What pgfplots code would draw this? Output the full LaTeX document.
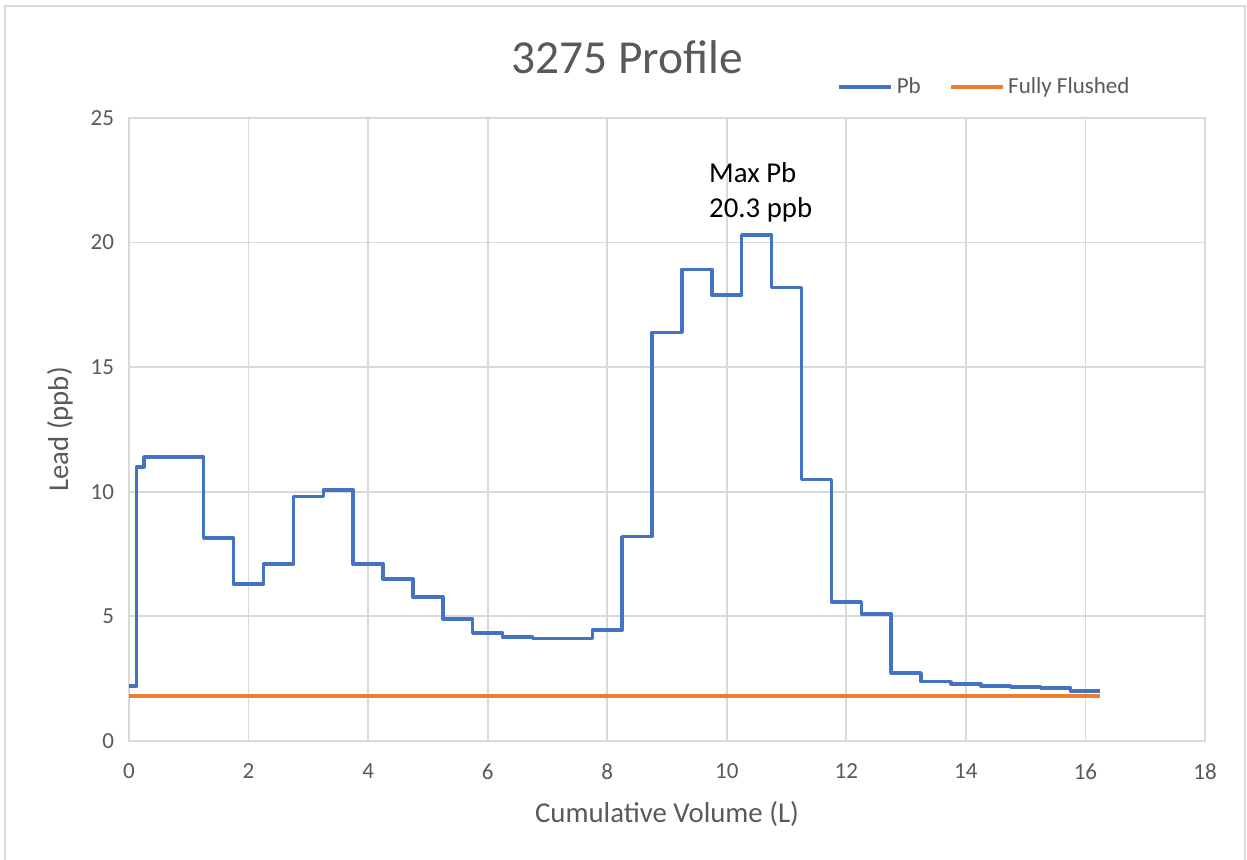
\documentclass[border=0pt]{standalone}
\usepackage{pgfplots}
\pgfplotsset{compat=1.18}
\usepackage{fontspec}
\setmainfont{Carlito}
\definecolor{pbblue}{HTML}{4472C4}
\definecolor{fforange}{HTML}{ED7D31}
\definecolor{gridgray}{HTML}{D9D9D9}
\definecolor{txtgray}{HTML}{595959}
\begin{document}
\begin{tikzpicture}
\begin{axis}[
  scale only axis,
  width=538pt, height=311.5pt,
  xmin=0, xmax=18, ymin=0, ymax=25,
  xtick={0,2,...,18}, ytick={0,5,...,25},
  grid=major,
  major grid style={draw=gridgray, line width=0.9pt},
  axis line style={draw=gridgray, line width=0.9pt},
  major tick length=0pt,
  /pgf/number format/assume math mode=true,
  tick label style={font=\fontsize{11.5}{14}\selectfont, text=txtgray},
  xticklabel style={yshift=-8pt},
  yticklabel style={xshift=-4pt},
  xlabel={Cumulative Volume (L)},
  ylabel={Lead (ppb)},
  label style={font=\fontsize{14.4}{17}\selectfont, text=txtgray},
  xlabel style={at={(axis description cs:0.5,0)}, anchor=center, yshift=-36.5pt},
  ylabel style={at={(axis description cs:0,0.5)}, anchor=center, rotate=0, yshift=34.5pt},
  clip=false,
  legend columns=2,
  legend style={at={(axis description cs:0.796,1.05)}, anchor=center, draw=none, fill=none,
    font=\fontsize{11.5}{14}\selectfont, text=txtgray,
    /tikz/every even column/.append style={column sep=12pt}},
  legend image code/.code={\draw[#1] (0pt,0pt) -- (26pt,0pt);},
]
\coordinate (O) at (rel axis cs:0,0);
\addplot[const plot, draw=pbblue, line width=1.7pt, line join=round] coordinates {
(0,2.2) (0.125,11.0) (0.25,11.4) (1.25,8.15) (1.75,6.3) (2.25,7.1) (2.75,9.8)
(3.25,10.07) (3.75,7.1) (4.25,6.5) (4.75,5.78) (5.25,4.9) (5.75,4.33) (6.25,4.17)
(6.75,4.12) (7.75,4.45) (8.25,8.2) (8.75,16.4) (9.25,18.93) (9.75,17.9) (10.25,20.3)
(10.75,18.2) (11.25,10.5) (11.75,5.58) (12.25,5.1) (12.75,2.73) (13.25,2.38)
(13.75,2.29) (14.25,2.21) (14.75,2.17) (15.25,2.13) (15.75,2.0) (16.25,2.0)
};
\addlegendentry{Pb}
\addplot[draw=fforange, line width=1.7pt] coordinates {(0,1.8) (16.25,1.8)};
\addlegendentry{Fully Flushed}
\node[anchor=west, align=left, inner sep=0pt, font=\fontsize{14.4}{17.5}\selectfont, text=black]
  at (axis cs:9.70,22.0) {Max Pb\\20.3 ppb};
\node[anchor=center, font=\fontsize{23.7}{28}\selectfont, text=txtgray]
  at (axis description cs:0.463,1.098) {3275 Profile};
\end{axis}
\pgfresetboundingbox
\useasboundingbox ([shift={(-64.5pt,-59.5pt)}]O) rectangle ([shift={(559pt,370.5pt)}]O);
\draw[gridgray, line width=0.9pt] ([shift={(-62pt,-70pt)}]O) -- ([shift={(-62pt,367.5pt)}]O)
  -- ([shift={(558pt,367.5pt)}]O) -- ([shift={(558pt,-70pt)}]O);
\end{tikzpicture}
\end{document}
